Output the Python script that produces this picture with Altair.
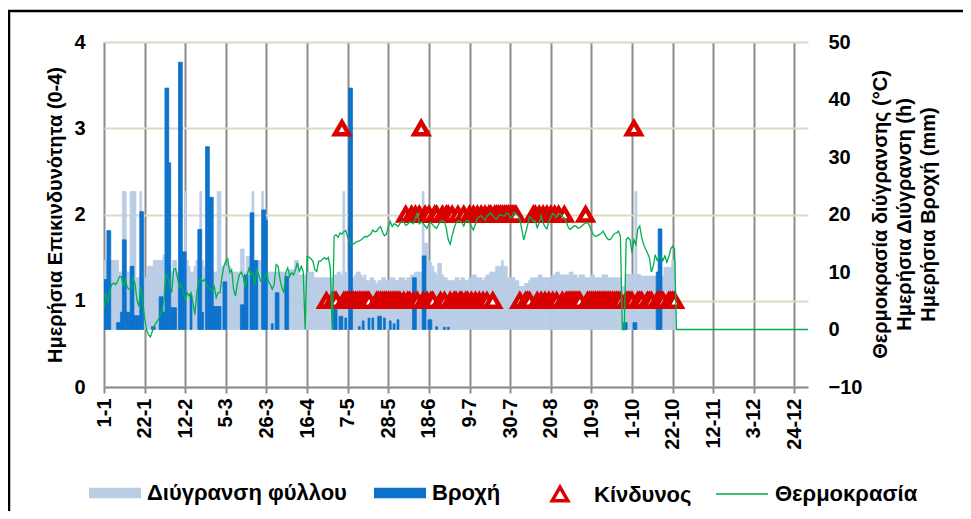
import json
import altair as alt
import pandas as pd

FONT = "Arial"

# x-axis category labels (one every 21 days, day index 0 = 1 January)
tick_labels = ['1-1', '22-1', '12-2', '5-3', '26-3', '16-4', '7-5', '28-5', '18-6',
               '9-7', '30-7', '20-8', '10-9', '1-10', '22-10', '12-11', '3-12', '24-12']

# Θερμοκρασία διύγρανσης (°C), one value per day
temperature = [
    3.5, 6.4, 4.6, 6.7, 7.8, 8.1, 7.8, 8.4, 9.2, 9.2,
    7.5, 8.7, 7.3, 7.0, 7.0, 9.0, 8.1, 5.2, 4.0, 7.5,
    5.0, 2.0, 0.0, -0.9, -1.3, -0.3, 0.6, 1.2, 1.7, 2.3,
    3.5, 5.2, 9.6, 9.0, 7.8, 6.4, 10.4, 10.6, 9.0, 7.3,
    7.8, 6.4, 5.2, 6.4, 5.8, 6.4, 4.6, 2.6, 6.4, 8.4,
    8.7, 8.4, 8.7, 7.8, 7.3, 7.0, 6.7, 7.5, 5.5, 6.4,
    6.4, 9.2, 11.0, 12.0, 12.3, 9.9, 10.4, 7.0, 5.8, 8.1,
    9.5, 10.0, 9.2, 7.3, 9.5, 10.7, 9.5, 9.9, 7.8, 10.4,
    9.5, 8.4, 8.7, 9.0, 9.9, 8.4, 7.8, 7.0, 7.8, 11.3,
    11.0, 8.7, 7.3, 6.4, 9.9, 10.7, 9.2, 9.9, 9.5, 10.4,
    11.6, 10.1, 11.0, 10.1, 0.0, 12.7, 12.6, 12.3, 11.9, 10.4,
    10.1, 11.9, 11.9, 12.2, 12.5, 12.2, 12.5, 10.7, 0.0, 16.2,
    16.5, 16.0, 16.8, 16.6, 17.0, 17.2, 16.0, 15.1, 14.8, 14.9,
    15.1, 15.3, 15.4, 15.6, 15.9, 16.2, 16.1, 16.4, 16.6, 17.3,
    17.0, 17.1, 17.6, 17.9, 16.9, 16.3, 16.6, 17.8, 18.8, 17.9,
    18.4, 18.2, 17.9, 18.4, 18.8, 18.7, 18.1, 18.3, 18.7, 18.6,
    18.4, 19.5, 20.2, 18.4, 18.7, 18.5, 18.0, 17.6, 18.4, 18.6,
    18.2, 17.8, 17.6, 18.3, 18.8, 19.0, 18.7, 17.6, 15.6, 14.8,
    16.3, 17.6, 18.5, 18.8, 18.9, 18.6, 18.0, 18.8, 19.0, 18.6,
    17.9, 17.3, 18.3, 19.3, 19.6, 19.8, 19.4, 19.0, 19.7, 20.0,
    20.3, 19.8, 19.4, 19.2, 19.8, 20.0, 19.8, 19.7, 20.2, 20.2,
    19.4, 19.7, 20.4, 20.0, 19.8, 19.2, 17.5, 15.6, 16.8, 18.1,
    19.6, 19.4, 18.8, 18.9, 17.7, 18.5, 19.8, 18.5, 17.9, 17.5,
    18.8, 19.5, 20.2, 19.9, 19.5, 20.0, 20.1, 19.6, 19.4, 18.7,
    17.8, 17.4, 17.7, 18.0, 18.0, 17.6, 17.7, 18.0, 18.3, 18.5,
    18.6, 18.1, 17.2, 16.5, 16.2, 16.3, 16.5, 16.7, 17.1, 16.5,
    15.9, 15.6, 15.7, 16.3, 16.7, 16.8, 17.1, 16.2, 0.0, 0.0,
    15.6, 16.0, 15.6, 13.3, 15.6, 14.8, 17.5, 18.0, 16.0, 14.8,
    14.0, 13.3, 12.5, 10.0, 11.0, 13.0, 12.0, 12.6, 12.8, 12.0,
    12.8, 11.7, 12.6, 14.0, 14.5, 14.0, 0.0,
] + [0.0] * 68

# Ημερήσια Διύγρανση (h), days 0..296
wetness = [
    12, 12, 12, 12, 12, 12, 12, 12, 10, 10,
    24, 24, 10, 10, 24, 24, 24, 9, 9, 24,
    9, 9, 9, 11, 11, 11, 12, 12, 12, 12,
    12, 13, 13, 13, 11, 10, 12, 12, 10, 11,
    12, 12, 24, 12, 11, 10, 10, 11, 12, 12,
    24, 12, 11, 12, 12, 11, 10, 10, 10, 24,
    24, 11, 11, 11, 11, 11, 10, 10, 10, 10,
    10, 14, 14, 10, 12.7, 12.7, 12, 24, 12, 12,
    12, 12, 24, 10, 10, 10, 10, 10, 10, 10,
    10, 10, 10, 10, 10, 10, 10.4, 10.4, 10.4, 12,
    12, 9.5, 9.5, 9.5, 9.5, 10, 10, 10, 10, 9,
    9, 9, 9, 9, 9, 9, 9, 9, 9, 9.5,
    9.5, 10, 10, 9.5, 24, 10, 10, 10.5, 9, 9,
    9.5, 10, 10, 9.5, 9, 9.5, 8.5, 8.5, 9, 9,
    8.5, 8, 8.5, 8.5, 9, 9, 8.5, 8.5, 9, 9,
    9, 8.5, 8.5, 9, 9, 9, 8.5, 9, 9, 9.5,
    9.5, 10, 10, 10, 10, 24, 15, 15, 12, 11.6,
    11, 10, 9.6, 11.5, 11.5, 9.5, 9, 9, 8.5, 8.5,
    8.5, 8.5, 9, 9, 8.5, 9, 9, 8.5, 8.5, 9,
    9, 9.5, 9.5, 9, 9, 9, 8.5, 9, 9.5, 9.5,
    10, 10, 10, 11, 11, 11, 12, 11, 11, 9,
    9, 9, 9, 8.5, 8.5, 7.5, 7.5, 7.5, 8, 8,
    8.5, 9, 9, 9, 9, 9.5, 9.5, 9, 9, 9,
    9, 9, 9.5, 9.5, 10, 10, 9.5, 9.5, 9.5, 9.5,
    9.5, 10, 10, 9.5, 9.5, 9, 9.5, 9.5, 9.5, 9,
    9, 9, 9.5, 9.5, 9, 9, 9, 9, 9.5, 9.5,
    9.5, 9, 9, 9, 9, 9, 9, 9, 7.5, 7.5,
    9.6, 9.6, 9.6, 9.6, 9.6, 24, 9.6, 9.6, 9.3, 9.3,
    9.3, 9.3, 9.3, 9.3, 9.3, 9.3, 9.3, 9.3, 9.3, 9.3,
    10.8, 10.8, 10.8, 10.8, 12, 12, 0,
]

# Ημερήσια Βροχή (mm), days 0..296
rain = [
    8.7, 8.7, 17.2, 17.2, 0, 0, 0, 1.2, 1.2, 3,
    15.6, 15.6, 3, 3, 11, 11, 2.4, 2.4, 2.4, 20.5,
    20.5, 0, 0, 0, 0, 0.5, 0.5, 0, 0, 5.7,
    5.7, 3, 42, 42, 29, 3.8, 3.8, 3.8, 0, 46.5,
    46.5, 13.5, 13.5, 0, 0, 6, 0, 0, 0, 17.4,
    17.4, 3, 0, 31.8, 31.8, 23, 23, 4, 4, 4,
    4, 0, 8.3, 8.3, 0, 0, 0, 0, 0, 0,
    0, 4.3, 4.3, 9.5, 9.5, 0, 20.3, 20.3, 12, 12,
    0, 0, 20.8, 20.8, 19, 0, 0, 1, 0, 6.4,
    6.4, 0, 0, 0, 9.2, 9.2, 0, 0, 0, 0,
    0, 0, 0, 0, 0, 0, 0, 0, 0, 0,
    0, 0, 0, 0, 0, 0, 0, 0, 0, 3.5,
    3.5, 0, 2.3, 2.3, 0, 2, 0, 42, 42, 0,
    0, 0, 0.5, 0, 1.5, 0, 0, 2, 0, 2,
    0, 0, 2.3, 2.3, 0, 2, 0, 0, 1.5, 0,
    1, 0, 1.7, 0, 0, 0, 0, 0, 0, 0,
    9, 9, 0, 0, 0, 12.8, 12.8, 0, 1.7, 1.7,
    0, 0, 0.5, 0, 0, 0, 0.4, 0, 0.4, 0,
] + [0] * 89 + [
    1.2, 1.2, 0, 0, 0, 1.2, 1.2, 0, 0, 0,
    0, 0, 0, 0, 0, 0, 0, 10, 17.5, 17.5, 0,
]

# Ημερήσια Επικινδυνότητα (0-4): 0 = no marker
risk = [0] * 115 + [
    1, 0, 0, 1, 1, 1, 0, 0, 3, 1,            # 115-124
    1, 1, 1, 1, 1, 1, 1, 1, 1, 1,            # 125-134
    1, 1, 1, 0, 0, 0, 1, 1, 1, 1,            # 135-144
    1, 1, 1, 1, 1, 1, 1, 1, 1, 0,            # 145-154
    1, 2, 1, 1, 2, 1, 2, 1, 2, 3,            # 155-164
    1, 2, 1, 2, 1, 1, 2, 2, 0, 1,            # 165-174
    2, 1, 2, 2, 1, 2, 1, 1, 2, 1,            # 175-184
    1, 2, 1, 1, 2, 1, 2, 1, 2, 1,            # 185-194
    2, 1, 2, 1, 2, 2, 1, 2, 2, 2,            # 195-204
    2, 2, 2, 2, 2, 2, 2, 2, 2, 0,            # 205-214
    1, 0, 0, 1, 1, 1, 0, 2, 2, 1,            # 215-224
    2, 1, 2, 1, 2, 1, 2, 1, 2, 1,            # 225-234
    2, 0, 1, 2, 1, 1, 1, 1, 1, 1,            # 235-244
    1, 1, 0, 0, 2, 1, 1, 1, 1, 1,            # 245-254
    1, 1, 1, 1, 1, 1, 1, 1, 1, 1,            # 255-264
    1, 1, 1, 0, 0, 1, 1, 1, 1, 3,            # 265-274
    0, 1, 1, 1, 0, 0, 1, 1, 1, 0,            # 275-284
    0, 1, 1, 1, 1, 0, 0, 1, 1, 1,            # 285-294
    1, 0,                                    # 295-296
]

bar_labels = ['Διύγρανση φύλλου', 'Βροχή']
bar_colors = ['#B9CDE5', '#0B72CC']
risk_label = 'Κίνδυνος'
temp_label = 'Θερμοκρασία'

right_title = ['Θερμοκρασία διύγρανσης (°C)', 'Ημερήσια Διύγρανση (h)', 'Ημερήσια Βροχή (mm)']
left_title = 'Ημερήσια Επικινδυνότητα (0-4)'

n_days = len(temperature)


def pad(lst):
    return list(lst) + [None] * (n_days - len(lst))


df = pd.DataFrame({
    'day': list(range(n_days)),
    'temp': temperature,
    'wet': pad(wetness),
    'rain': pad(rain),
    'risk': pad(risk),
})

x_scale = alt.Scale(domain=[0, n_days - 1], nice=False, zero=False)
x_axis = alt.Axis(
    values=[21 * i for i in range(len(tick_labels))],
    labelExpr=json.dumps(tick_labels) + "[round(datum.value / 21)]",
    labelAngle=270, labelFont=FONT, labelFontSize=20, labelFontWeight='bold',
    labelColor='black', labelPadding=5, labelOverlap=False,
    grid=True, gridColor='#8C8C8C', gridWidth=2,
    domainColor='#8C8C8C', domainWidth=2,
    tickColor='#8C8C8C', tickWidth=2, tickSize=6, title=None,
)

right_scale = alt.Scale(domain=[-10, 50], nice=False, zero=True)
right_axis = alt.Axis(
    orient='right', values=[-10, 0, 10, 20, 30, 40, 50],
    labelFont=FONT, labelFontSize=20, labelFontWeight='bold', labelColor='black',
    labelPadding=20, domain=False, ticks=False, grid=False,
    title=right_title, titleAngle=270, titleFont=FONT, titleFontSize=20,
    titleFontWeight='bold', titleColor='black', titleLineHeight=24,
    titleX=62, titleY=172, titleBaseline='top', titleAlign='center',
)

base = alt.Chart(df)

wet_layer = base.transform_filter('datum.wet > 0').transform_calculate(
    x0='datum.day - 0.5', x1='datum.day + 0.5'
).mark_bar(color='#B9CDE5', stroke='#B9CDE5', strokeWidth=0.7, clip=True).encode(
    x=alt.X('x0:Q', scale=x_scale, axis=x_axis),
    x2='x1:Q',
    y=alt.Y('wet:Q', scale=right_scale, axis=right_axis),
    y2=alt.datum(0),
)

rain_layer = base.transform_filter('datum.rain > 0').transform_calculate(
    x0='datum.day - 0.5', x1='datum.day + 0.5'
).mark_bar(color='#0B72CC', stroke='#0B72CC', strokeWidth=0.7, clip=True).encode(
    x=alt.X('x0:Q', scale=x_scale, axis=x_axis),
    x2='x1:Q',
    y=alt.Y('rain:Q', scale=right_scale, axis=right_axis),
    y2=alt.datum(0),
)

tri_mark = 'M0,-0.866L1,0.866L-1,0.866Z'

risk_layer = base.transform_filter('datum.risk > 0').mark_point(
    shape=tri_mark, filled=True, fill='white', stroke='#D90000',
    strokeWidth=4.5, size=196, opacity=1, clip=True,
).encode(
    x=alt.X('day:Q', scale=x_scale, axis=x_axis),
    y=alt.Y('risk:Q', scale=alt.Scale(domain=[0, 4], nice=False),
            axis=alt.Axis(orient='left', values=[0, 1, 2, 3, 4], grid=True,
                          gridColor='#DDD9C3', gridWidth=2, domain=False, ticks=False,
                          labelFont=FONT, labelFontSize=20, labelFontWeight='bold',
                          labelColor='black', labelPadding=19,
                          title=left_title, titleFont=FONT, titleFontSize=20,
                          titleFontWeight='bold', titleColor='black', titlePadding=8)),
)

temp_layer = base.mark_line(color='#00B050', strokeWidth=1.3, clip=True).encode(
    x=alt.X('day:Q', scale=x_scale, axis=x_axis),
    y=alt.Y('temp:Q', scale=right_scale, axis=None),
)

rect_path = 'M-1,-0.2H1V0.2H-1Z'
tri_path = 'M0,-0.3L0.3,0.22L-0.3,0.22Z'

leg_common = dict(title=None, orient='none', legendY=425, direction='horizontal',
                  symbolSize=2704, labelFont=FONT, labelFontSize=22,
                  labelFontWeight='bold', labelColor='black', labelOffset=6,
                  labelLimit=0, padding=0, symbolOpacity=1)

legend_bars = alt.Chart(pd.DataFrame({'series': bar_labels})).mark_square(
    opacity=1, clip=True
).encode(
    x=alt.value(-500), y=alt.value(-500),
    color=alt.Color('series:N', scale=alt.Scale(domain=bar_labels, range=bar_colors),
                    legend=alt.Legend(legendX=-15, columns=2, columnPadding=27,
                                      symbolType=rect_path, symbolStrokeWidth=0,
                                      **leg_common)),
)

legend_risk = alt.Chart(pd.DataFrame({'series': [risk_label]})).mark_point(
    clip=True, filled=False
).encode(
    x=alt.value(-500), y=alt.value(-500),
    shape=alt.Shape('series:N', scale=alt.Scale(domain=[risk_label], range=[tri_path]),
                    legend=alt.Legend(legendX=428, symbolFillColor='#FFFFFF',
                                      symbolStrokeColor='#D90000', symbolStrokeWidth=3.5,
                                      **leg_common)),
)

legend_temp = alt.Chart(pd.DataFrame({'series': [temp_label]})).mark_line(
    clip=True, color='#3CC070'
).encode(
    x=alt.value(-500), y=alt.value(-500),
    strokeDash=alt.StrokeDash('series:N', scale=alt.Scale(domain=[temp_label], range=[[1, 0]]),
                              legend=alt.Legend(legendX=611, symbolType='stroke',
                                                symbolStrokeColor='#3CC070',
                                                symbolStrokeWidth=2, **leg_common)),
)

frame_df = pd.DataFrame({'k': [0]})
frame_v = alt.Chart(frame_df).mark_rule(color='black', strokeWidth=2.5, clip=False).encode(
    x=alt.value(-95), y=alt.value(-31), y2=alt.value(480))
frame_h = alt.Chart(frame_df).mark_rule(color='black', strokeWidth=2.5, clip=False).encode(
    x=alt.value(-96), x2=alt.value(880), y=alt.value(-31))

chart = alt.layer(
    alt.layer(wet_layer, rain_layer),
    risk_layer,
    temp_layer,
    legend_bars,
    legend_risk,
    legend_temp,
    frame_v,
    frame_h,
).resolve_scale(y='independent').properties(
    width=704, height=345,
    padding={'left': 96, 'top': 34, 'right': 155, 'bottom': 124},
    autosize=alt.AutoSizeParams(type='none'),
).configure_view(stroke=None)

chart.save('out.html', embed_options={'renderer': 'svg', 'actions': False})
